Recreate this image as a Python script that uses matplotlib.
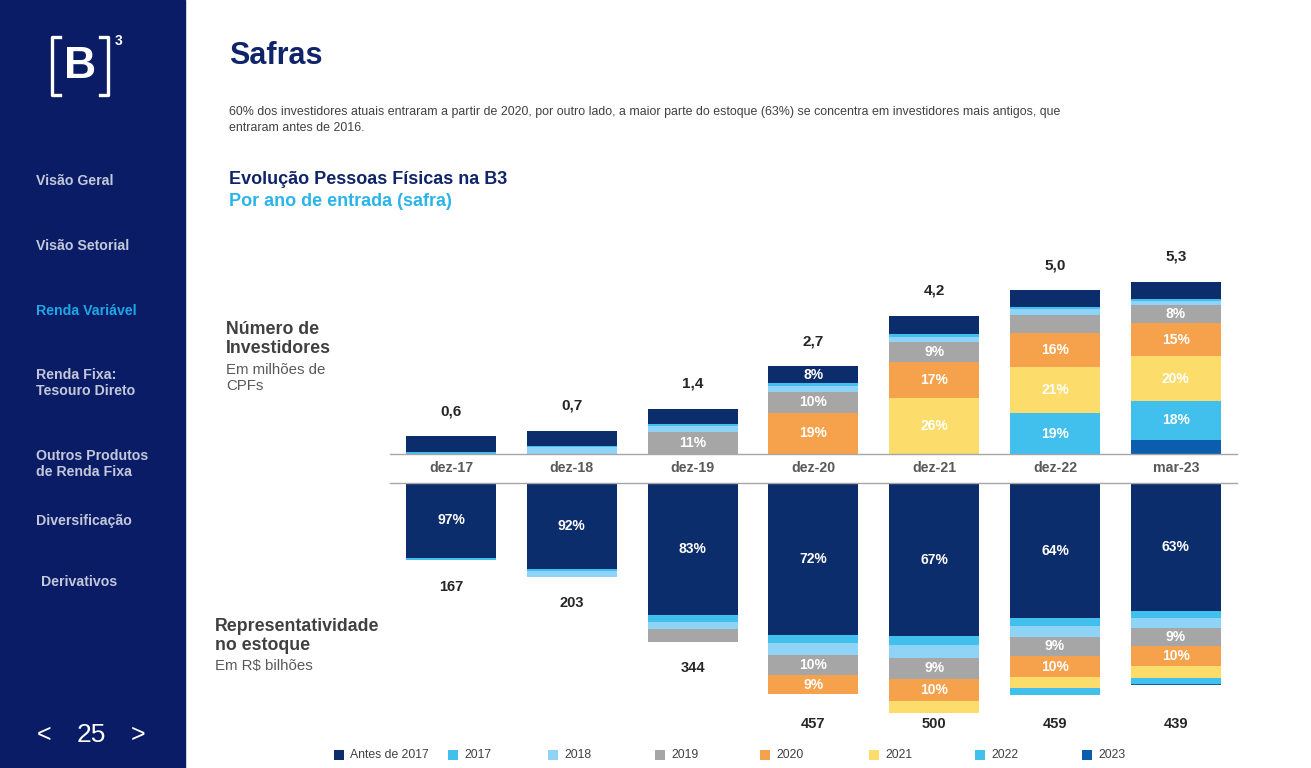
import matplotlib
matplotlib.use("Agg")
import matplotlib.pyplot as plt
from matplotlib.patches import Rectangle
from matplotlib.lines import Line2D
import numpy as np

plt.rcParams['font.family'] = ['Liberation Sans', 'DejaVu Sans']

# dados
categorias = ['dez-17', 'dez-18', 'dez-19', 'dez-20', 'dez-21', 'dez-22', 'mar-23']
safras = ['Antes de 2017', '2017', '2018', '2019', '2020', '2021', '2022', '2023']

# numero de investidores (milhoes de CPFs) por safra
inv_antes = [0.48, 0.47, 0.47, 0.52, 0.56, 0.51, 0.54]
inv_2017 = [0.07, 0.04, 0.07, 0.09, 0.07, 0.08, 0.06]
inv_2018 = [0.00, 0.20, 0.17, 0.17, 0.16, 0.17, 0.11]
inv_2019 = [0.00, 0.00, 0.68, 0.64, 0.61, 0.56, 0.56]
inv_2020 = [0.00, 0.00, 0.00, 1.26, 1.10, 1.04, 1.02]
inv_2021 = [0.00, 0.00, 0.00, 0.00, 1.72, 1.41, 1.35]
inv_2022 = [0.00, 0.00, 0.00, 0.00, 0.00, 1.24, 1.20]
inv_2023 = [0.00, 0.00, 0.00, 0.00, 0.00, 0.00, 0.43]
inv_total = [0.6, 0.7, 1.4, 2.7, 4.2, 5.0, 5.3]

# rotulos escritos nas barras de investidores
rot_inv_antes = ['', '', '', '8%', '', '', '']
rot_inv_2019 = ['', '', '11%', '10%', '9%', '', '8%']
rot_inv_2020 = ['', '', '', '19%', '17%', '16%', '15%']
rot_inv_2021 = ['', '', '', '', '26%', '21%', '20%']
rot_inv_2022 = ['', '', '', '', '', '19%', '18%']

# estoque (R$ bilhoes) e participacao de cada safra (%)
est_total = [167, 203, 344, 457, 500, 459, 439]
est_antes = [97.0, 92.0, 83.2, 72.3, 66.5, 63.9, 63.3]
est_2017 = [3.0, 1.5, 4.4, 3.5, 3.9, 3.5, 3.5]
est_2018 = [0.0, 6.5, 4.6, 6.0, 5.5, 5.2, 4.9]
est_2019 = [0.0, 0.0, 7.8, 9.4, 8.9, 9.0, 9.0]
est_2020 = [0.0, 0.0, 0.0, 8.9, 9.8, 10.2, 9.7]
est_2021 = [0.0, 0.0, 0.0, 0.0, 5.3, 5.2, 5.8]
est_2022 = [0.0, 0.0, 0.0, 0.0, 0.0, 3.0, 3.0]
est_2023 = [0.0, 0.0, 0.0, 0.0, 0.0, 0.0, 0.8]

rot_est_antes = ['97%', '92%', '83%', '72%', '67%', '64%', '63%']
rot_est_2019 = ['', '', '', '10%', '9%', '9%', '9%']
rot_est_2020 = ['', '', '', '9%', '10%', '10%', '10%']

cores = ['#0c2d6b', '#41c0ee', '#8fd3f6', '#a6a6a6', '#f6a14b', '#fcdc6b', '#41c0ee', '#0b5eae']

inv = [inv_antes, inv_2017, inv_2018, inv_2019, inv_2020, inv_2021, inv_2022, inv_2023]
vazio = [''] * 7
rot_inv = [rot_inv_antes, vazio, vazio, rot_inv_2019, rot_inv_2020, rot_inv_2021, rot_inv_2022, vazio]
est = [est_antes, est_2017, est_2018, est_2019, est_2020, est_2021, est_2022, est_2023]
rot_est = [rot_est_antes, vazio, vazio, rot_est_2019, rot_est_2020, vazio, vazio, vazio]

W, H = 1311, 768
def fx(px):
    return px / W
def fy(py):
    return 1 - py / H

fig = plt.figure(figsize=(W / 100, H / 100), dpi=100)
fig.patch.set_facecolor('white')

# barra lateral
fig.add_artist(Rectangle((0, 0), fx(185), 1, transform=fig.transFigure, color='#0a1c66', zorder=0))
for pts in [[(60, 37), (52, 37), (52, 95), (60, 95)], [(100, 37), (108, 37), (108, 95), (100, 95)]]:
    xs = [fx(p[0]) for p in pts]
    ys = [fy(p[1]) for p in pts]
    fig.add_artist(Line2D(xs, ys, color='white', lw=2.4, transform=fig.transFigure))
fig.text(fx(80), fy(67), 'B', color='white', fontsize=32, fontweight='bold', ha='center', va='center')
fig.text(fx(119), fy(41), '3', color='white', fontsize=10, fontweight='bold', ha='center', va='center')

menu = [('Visão Geral', 36, 181), ('Visão Setorial', 36, 246), ('Renda Variável', 36, 311),
        ('Renda Fixa:\nTesouro Direto', 36, 383), ('Outros Produtos\nde Renda Fixa', 36, 464),
        ('Diversificação', 36, 521), ('Derivativos', 41, 582)]
for txt, x, y in menu:
    cor = '#1ea7e4' if txt == 'Renda Variável' else '#c3c7da'
    fig.text(fx(x), fy(y), txt, color=cor, fontsize=10.2, fontweight='bold', ha='left', va='center',
             linespacing=1.25)
fig.text(fx(44), fy(735), '<', color='white', fontsize=18, ha='center', va='center')
fig.text(fx(91), fy(735), '25', color='white', fontsize=19, ha='center', va='center')
fig.text(fx(138), fy(735), '>', color='white', fontsize=18, ha='center', va='center')

# titulos
fig.text(fx(229), fy(56), 'Safras', color='#10246a', fontsize=22, fontweight='bold', va='center')
fig.text(fx(229), fy(120),
         '60% dos investidores atuais entraram a partir de 2020, por outro lado, a maior parte do estoque (63%) '
         'se concentra em investidores mais antigos, que\nentraram antes de 2016.',
         color='#404040', fontsize=8.95, va='center', linespacing=1.35)
fig.text(fx(229), fy(180), 'Evolução Pessoas Físicas na B3', color='#10246a', fontsize=13,
         fontweight='bold', va='center')
fig.text(fx(229), fy(201), 'Por ano de entrada (safra)', color='#29b5e8', fontsize=13,
         fontweight='bold', va='center')

fig.text(fx(226), fy(339), 'Número de\nInvestidores', color='#404040', fontsize=12.8,
         fontweight='bold', va='center', linespacing=1.2)
fig.text(fx(226), fy(378), 'Em milhões de\nCPFs', color='#595959', fontsize=10.8, va='center',
         linespacing=1.2)
fig.text(fx(215), fy(636), 'Representatividade\nno estoque', color='#404040', fontsize=12.8,
         fontweight='bold', va='center', linespacing=1.2)
fig.text(fx(215), fy(666), 'Em R$ bilhões', color='#595959', fontsize=10.8, va='center')

x = np.arange(len(categorias))
largura = 0.745

# grafico de cima: investidores
ax1 = fig.add_axes([fx(390), fy(454), fx(1237) - fx(390), (454 - 240) / H])
ax1.set_xlim(-0.505, 6.507)
ax1.set_ylim(0, 6.54)
base = np.zeros(len(categorias))
for i in range(len(safras) - 1, -1, -1):
    v = np.array(inv[i])
    ax1.bar(x, v, bottom=base, width=largura, color=cores[i], linewidth=0)
    for j, r in enumerate(rot_inv[i]):
        if r:
            ax1.text(x[j], base[j] + v[j] / 2, r, color='white', fontsize=10, fontweight='bold',
                     ha='center', va='center')
    base = base + v
for j, t in enumerate(inv_total):
    ax1.annotate(f'{t:.1f}'.replace('.', ','), (x[j], base[j]), xytext=(0, 18),
                 textcoords='offset points', ha='center', va='center', fontsize=11,
                 fontweight='bold', color='#262626')
for s in ['top', 'left', 'right']:
    ax1.spines[s].set_visible(False)
ax1.spines['bottom'].set_color('#a6a6a6')
ax1.spines['bottom'].set_linewidth(1)
ax1.set_yticks([])
ax1.set_xticks(x)
ax1.set_xticklabels(categorias, fontsize=10.2, fontweight='bold', color='#595959')
ax1.tick_params(axis='x', length=0, pad=5)
ax1.patch.set_alpha(0)

# grafico de baixo: estoque
ax2 = fig.add_axes([fx(390), fy(745), fx(1237) - fx(390), (745 - 483) / H])
ax2.set_xlim(-0.505, 6.507)
ax2.set_ylim(568, 0)
tot = np.array(est_total, dtype=float)
base = np.zeros(len(categorias))
for i in range(len(safras)):
    v = np.array(est[i]) / 100 * tot
    ax2.bar(x, v, bottom=base, width=largura, color=cores[i], linewidth=0)
    for j, r in enumerate(rot_est[i]):
        if r:
            ax2.text(x[j], base[j] + v[j] / 2, r, color='white', fontsize=10, fontweight='bold',
                     ha='center', va='center')
    base = base + v
pos_rot = np.where(tot > 430, 523, tot + 58)
for j, t in enumerate(est_total):
    ax2.text(x[j], pos_rot[j], str(t), ha='center', va='center', fontsize=10.5,
             fontweight='bold', color='#262626')
for s in ['bottom', 'left', 'right']:
    ax2.spines[s].set_visible(False)
ax2.spines['top'].set_color('#a6a6a6')
ax2.spines['top'].set_linewidth(1)
ax2.set_xticks([])
ax2.set_yticks([])
ax2.patch.set_alpha(0)

# legenda
leg_x = [334, 448, 548, 655, 760, 869, 975, 1082]
for i, nome in enumerate(safras):
    fig.add_artist(Rectangle((fx(leg_x[i]), fy(760)), 10 / W, 10 / H, transform=fig.transFigure,
                             color=cores[i], linewidth=0))
    fig.text(fx(leg_x[i] + 16), fy(755), nome, color='#404040', fontsize=8.8, va='center')

fig.savefig('out.png', dpi=100)
